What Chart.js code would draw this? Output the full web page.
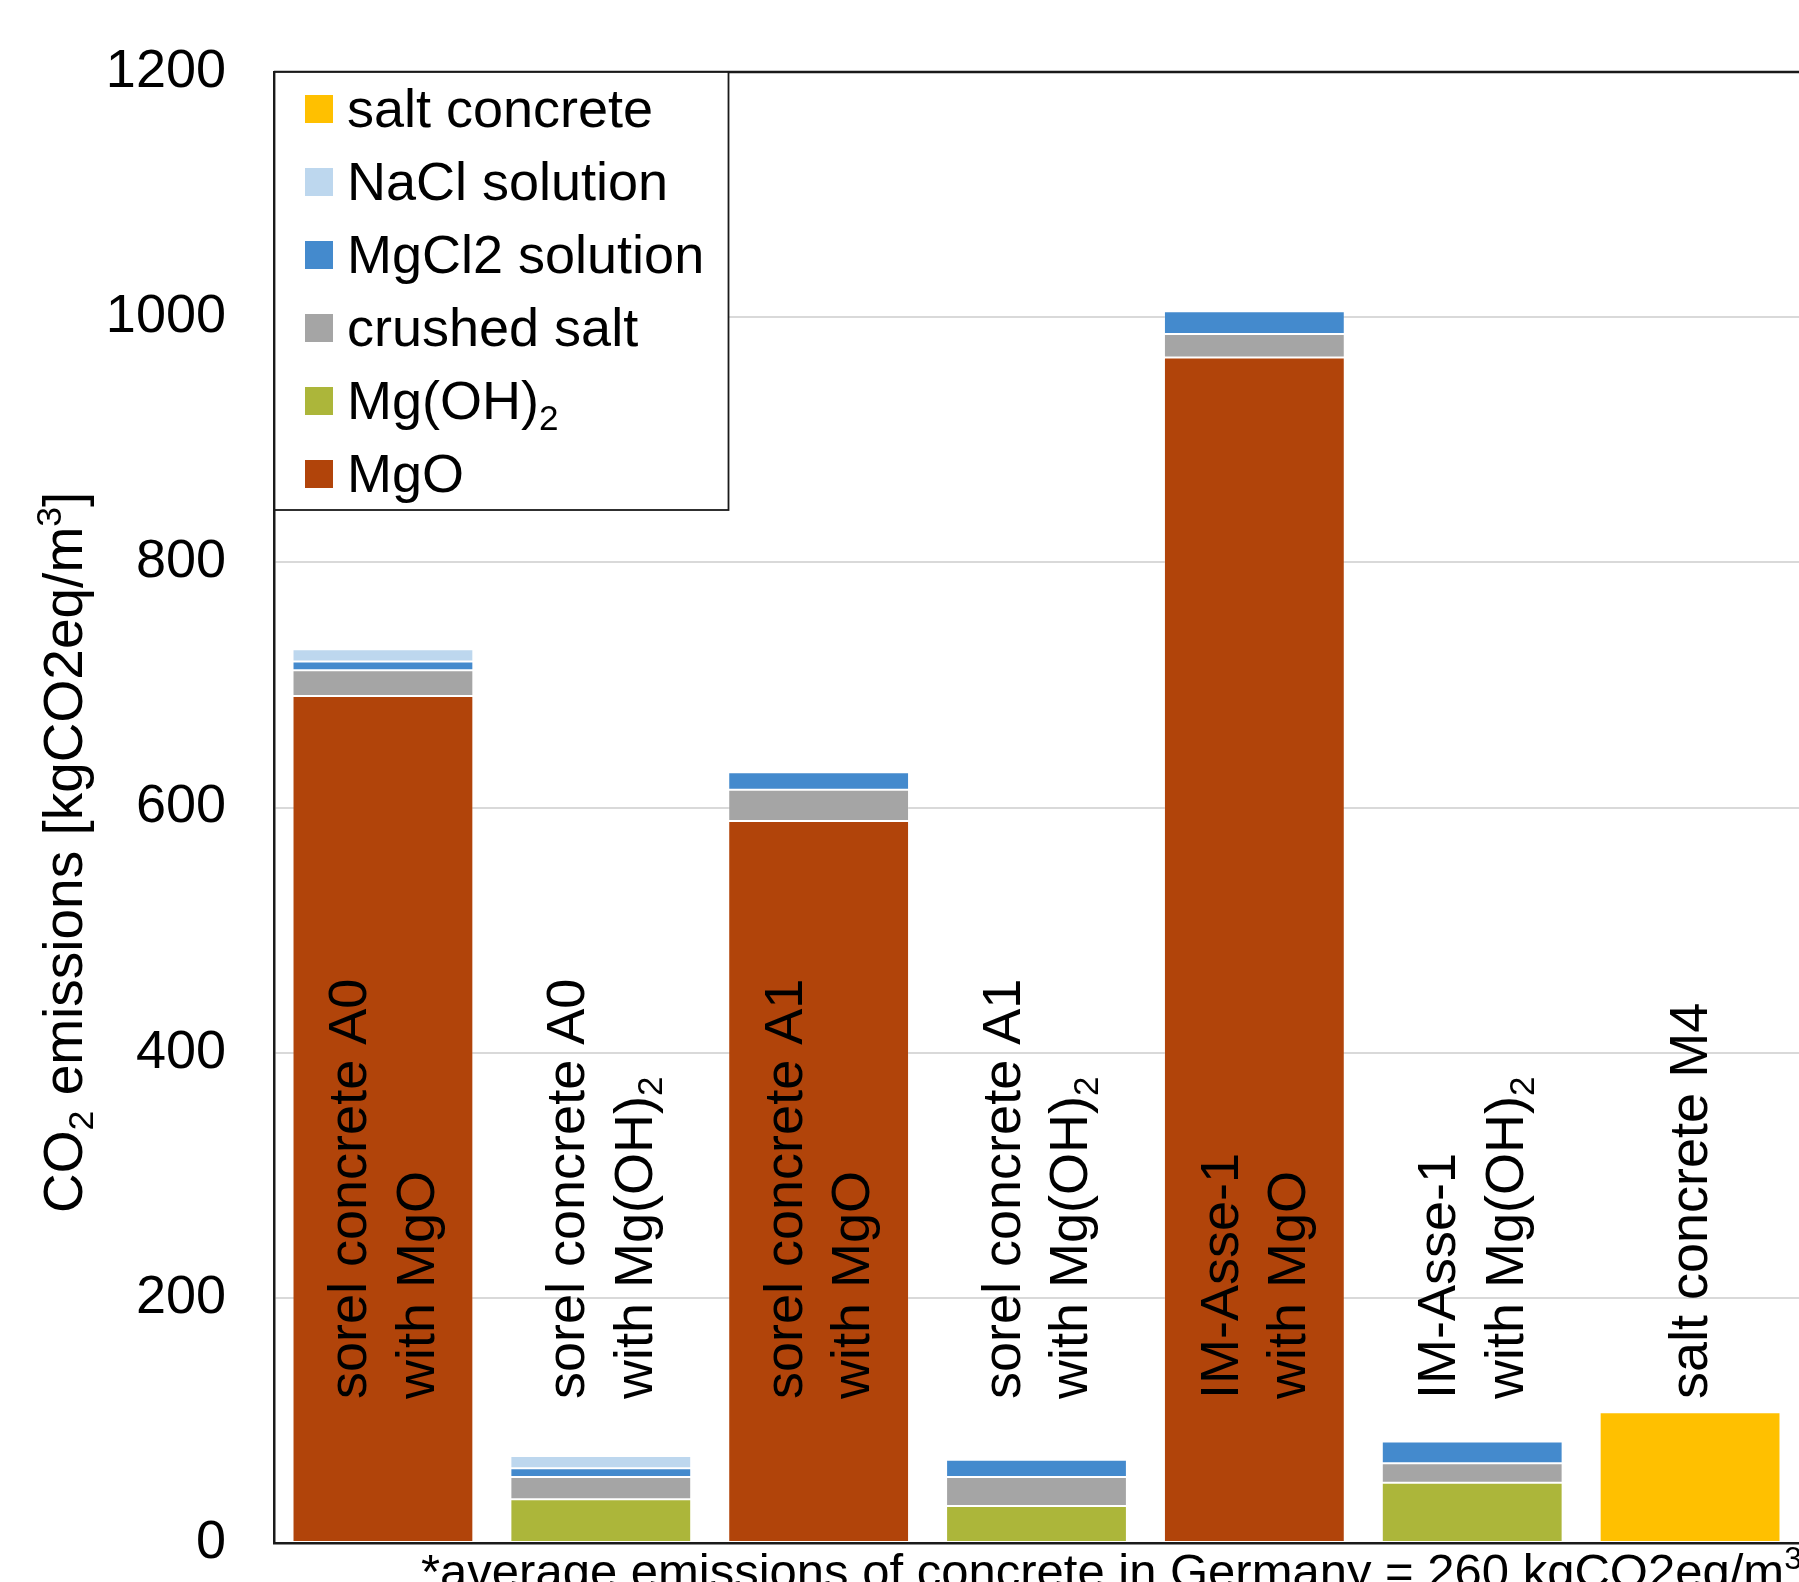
<!DOCTYPE html>
<html>
<head>
<meta charset="utf-8">
<title>CO2 emissions of salt and sorel concretes</title>
<script src="https://cdn.jsdelivr.net/npm/chart.js@4.4.1/dist/chart.umd.min.js"></script>
<style>
  html, body { margin: 0; padding: 0; background: #ffffff; }
  canvas { display: block; }
</style>
</head>
<body>
<canvas id="chart" width="1799" height="1582"></canvas>
<script>
// Concrete mixes, each label split into the lines drawn inside the bar
const categories = [
  ['sorel concrete A0', 'with MgO'],
  ['sorel concrete A0', 'with Mg(OH)₂'],
  ['sorel concrete A1', 'with MgO'],
  ['sorel concrete A1', 'with Mg(OH)₂'],
  ['IM-Asse-1', 'with MgO'],
  ['IM-Asse-1', 'with Mg(OH)₂'],
  ['salt concrete M4']
];

// Emissions per component [kgCO2eq/m³], stacked bottom to top
const mgO          = [691, null, 589, null, 967, null, null];
const mgOH2        = [null, 35.6, null, 30.2, null, 49.2, null];
const crushedSalt  = [21, 18.2, 25.5, 23.7, 19.3, 15.9, null];
const mgCl2Sol     = [7.1, 7.1, 14.2, 14.1, 18.6, 17.6, null];
const naclSol      = [10, 10, null, null, null, null, null];
const saltConcrete = [null, null, null, null, null, null, 106.7];

const seriesNames = ['MgO', 'Mg(OH)₂', 'crushed salt', 'MgCl2 solution', 'NaCl solution', 'salt concrete'];
const seriesColors = ['#B1440A', '#ACB63A', '#A5A5A5', '#448ACD', '#BDD7EE', '#FFC000'];

const yTicks = [0, 200, 400, 600, 800, 1000, 1200];
const yTitle = 'CO₂ emissions [kgCO2eq/m³]';
const footnote = '*average emissions of concrete in Germany = 260 kgCO2eq/m³';

const FONT = "'Liberation Sans', Arial, Helvetica, sans-serif";
const FS = 54;

const SUB = { '₀': '0', '₁': '1', '₂': '2', '₃': '3', '₄': '4' };
const SUP = { '²': '2', '³': '3' };

// Draws text at a baseline, rendering sub/superscript digits as smaller lowered/raised runs
function drawRich(ctx, text, x, y, size) {
  const runs = [];
  for (const ch of text) {
    let type = 'n', c = ch;
    if (SUB[ch]) { type = 'sub'; c = SUB[ch]; }
    else if (SUP[ch]) { type = 'sup'; c = SUP[ch]; }
    const last = runs[runs.length - 1];
    if (last && last.type === type) last.text += c;
    else runs.push({ type, text: c });
  }
  let cx = x;
  ctx.textAlign = 'left';
  ctx.textBaseline = 'alphabetic';
  for (const r of runs) {
    let s = size, dy = 0;
    if (r.type === 'sub') { s = size * 0.65; dy = size * 0.2; }
    if (r.type === 'sup') { s = size * 0.65; dy = -size * 0.38; }
    ctx.font = s + 'px ' + FONT;
    ctx.fillText(r.text, cx, y + dy);
    cx += ctx.measureText(r.text).width;
  }
  return cx - x;
}

const datasets = seriesNames.map((name, i) => ({
  label: name,
  data: [mgO, mgOH2, crushedSalt, mgCl2Sol, naclSol, saltConcrete][i],
  backgroundColor: seriesColors[i],
  borderColor: 'rgba(255,255,255,0.2)',
  borderWidth: 1,
  borderSkipped: false,
  barPercentage: 0.83,
  categoryPercentage: 1.0
}));

const decor = {
  id: 'decor',
  beforeDraw(chart) {
    const ctx = chart.ctx;
    ctx.save();
    ctx.fillStyle = '#ffffff';
    ctx.fillRect(0, 0, chart.width, chart.height);
    ctx.restore();
  },
  afterDraw(chart) {
    const ctx = chart.ctx;
    const area = chart.chartArea;
    const xs = chart.scales.x;
    ctx.save();
    ctx.fillStyle = '#000000';

    // plot area top border
    ctx.strokeStyle = '#1a1a1a';
    ctx.lineWidth = 2.5;
    ctx.beginPath();
    ctx.moveTo(area.left, area.top);
    ctx.lineTo(area.right + 2, area.top);
    ctx.stroke();

    // category names written vertically inside each bar
    const startY = area.bottom - 144;
    categories.forEach((lines, i) => {
      const cx = xs.getPixelForValue(i);
      const n = lines.length;
      lines.forEach((line, j) => {
        const bx = cx + (j - (n - 1) / 2) * 67.5 + 17;
        ctx.save();
        ctx.translate(bx, startY);
        ctx.rotate(-Math.PI / 2);
        ctx.fillStyle = '#000000';
        drawRich(ctx, line, 0, 0, FS);
        ctx.restore();
      });
    });

    // legend box in the upper left of the plot
    const lx = area.left, ly = area.top, lw = 454, lh = 438;
    ctx.fillStyle = '#ffffff';
    ctx.fillRect(lx, ly, lw, lh);
    ctx.strokeStyle = '#1a1a1a';
    ctx.lineWidth = 1.8;
    ctx.strokeRect(lx + 0.5, ly, lw, lh);
    const order = seriesNames.map((_, i) => i).reverse();
    order.forEach((si, row) => {
      const cy = ly + 37 + row * 73;
      ctx.fillStyle = seriesColors[si];
      ctx.fillRect(lx + 31, cy - 14, 28, 28);
      ctx.fillStyle = '#000000';
      drawRich(ctx, seriesNames[si], lx + 73, cy + 18, FS);
    });

    // y-axis title
    ctx.save();
    ctx.translate(82, area.bottom - 330);
    ctx.rotate(-Math.PI / 2);
    ctx.fillStyle = '#000000';
    drawRich(ctx, yTitle, 0, 0, 55);
    ctx.restore();

    // footnote under the axis
    ctx.fillStyle = '#000000';
    drawRich(ctx, footnote, 421, area.bottom + 45, 49);

    ctx.restore();
  }
};

new Chart(document.getElementById('chart'), {
  type: 'bar',
  data: { labels: categories.map(l => l.join(' ')), datasets },
  options: {
    responsive: false,
    animation: false,
    devicePixelRatio: 1,
    layout: { padding: { left: 0, top: 72, right: 0, bottom: 39 } },
    plugins: { legend: { display: false }, tooltip: { enabled: false } },
    scales: {
      x: {
        stacked: true,
        offset: true,
        grid: { display: false, drawTicks: false },
        ticks: { display: false },
        border: { display: true, color: '#1a1a1a', width: 2.5 },
        afterFit(scale) { scale.height = 0; }
      },
      y: {
        stacked: true,
        min: 0,
        max: 1200,
        afterFit(scale) {
          scale.width = 274;
          scale.paddingTop = 0;
          scale.paddingBottom = 0;
        },
        afterBuildTicks(scale) { scale.ticks = yTicks.map(v => ({ value: v })); },
        grid: { color: '#d9d9d9', lineWidth: 2, drawTicks: false },
        border: { display: true, color: '#1a1a1a', width: 2.5 },
        ticks: {
          padding: 48,
          color: '#000000',
          font: { family: FONT, size: FS },
          callback: v => String(v)
        }
      }
    }
  },
  plugins: [decor]
});
</script>
</body>
</html>
